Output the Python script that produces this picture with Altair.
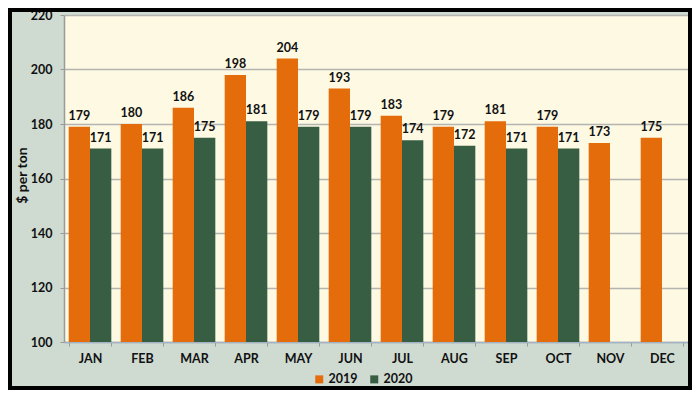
import altair as alt
import pandas as pd

months = ["JAN", "FEB", "MAR", "APR", "MAY", "JUN", "JUL", "AUG", "SEP", "OCT", "NOV", "DEC"]
v2019 = [179, 180, 186, 198, 204, 193, 183, 179, 181, 179, 173, 175]
v2020 = [171, 171, 175, 181, 179, 179, 174, 172, 171, 171, None, None]
years = ["2019", "2020"]
colors = ["#e46c0a", "#375e43"]

rows = []
for m, a, b in zip(months, v2019, v2020):
    rows.append({"month": m, "year": "2019", "value": a})
    rows.append({"month": m, "year": "2020", "value": b})
df = pd.DataFrame(rows)

FONT = "Lato"

x = alt.X("month:N", sort=months, title=None,
          scale=alt.Scale(paddingInner=0.18, paddingOuter=0.09),
          axis=alt.Axis(labelAngle=0, labelFontSize=12.5, labelFontWeight="bold",
                        labelColor="#111111", labelPadding=6, tickBand="extent",
                        tickSize=4, tickColor="#9a9a9a", domainColor="#9fb3c4",
                        domainWidth=1.5, grid=False, labelFont=FONT))
xo = alt.XOffset("year:N", sort=years, scale=alt.Scale(domain=years, paddingInner=0))
y = alt.Y("value:Q", title="$ per ton",
          scale=alt.Scale(domain=[100, 220], zero=False, nice=False),
          axis=alt.Axis(values=[100, 120, 140, 160, 180, 200, 220], labelFontSize=12.5,
                        labelFontWeight="bold", labelColor="#111111", labelPadding=8,
                        tickSize=4, tickColor="#9a9a9a", domainColor="#9a9a9a",
                        domainWidth=1.5, gridColor="#b4b4b0", gridWidth=1.5,
                        titleFontSize=14, titleFontWeight="bold", titleColor="#111111",
                        titleAngle=-90, titleX=-42, titleY=160, titleAlign="center",
                        titleBaseline="middle", labelFont=FONT, titleFont=FONT))

base = alt.Chart(df).transform_filter("isValid(datum.value)")

bars = base.mark_bar().encode(
    x=x, xOffset=xo, y=y, y2=alt.datum(100),
    color=alt.Color("year:N", sort=years,
                    scale=alt.Scale(domain=years, range=colors),
                    legend=alt.Legend(title=None, orient="none", direction="horizontal",
                                      legendX=249, legendY=358, symbolType="square",
                                      symbolSize=64, symbolStrokeWidth=0,
                                      labelFontSize=12.5, labelFontWeight="bold",
                                      labelColor="#111111", labelFont=FONT,
                                      labelOffset=3, columnPadding=10)),
)

labels = base.mark_text(baseline="bottom", dy=-4, fontSize=12.5, fontWeight="bold",
                        font=FONT, color="#111111").encode(
    x=x, xOffset=xo, y=y, text=alt.Text("value:Q", format="d"),
)

frame = alt.Chart(pd.DataFrame({"a": [0]})).mark_rect(
    fillOpacity=0, stroke="#000000", strokeWidth=4
).encode(x=alt.value(-54), x2=alt.value(626), y=alt.value(-5), y2=alt.value(373))

chart = alt.layer(bars, labels, frame).properties(
    width=624, height=327,
    autosize=alt.AutoSizeParams(type="none"),
    padding={"left": 56, "top": 7, "right": 4, "bottom": 48},
    background="#cfdbd1",
).configure_view(fill="#fef9e3", stroke=None)

chart.save("out.html", embed_options={"renderer": "svg", "actions": False})
